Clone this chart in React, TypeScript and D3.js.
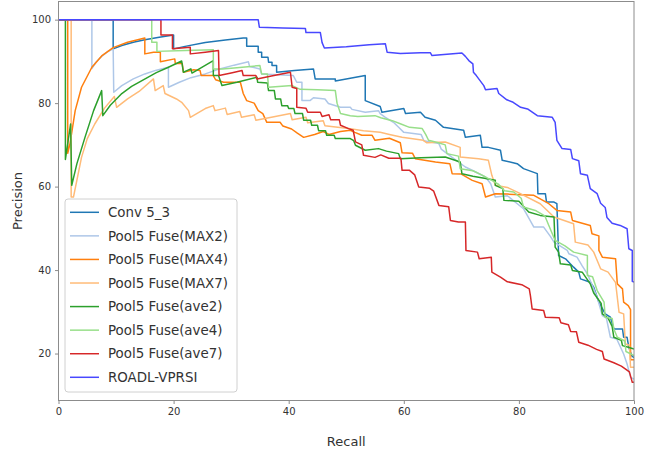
import React, { useEffect, useRef } from "react";
import * as d3 from "d3";

// series labels + colours (legend order)
const seriesNames = [
  "Conv 5_3",
  "Pool5 Fuse(MAX2)",
  "Pool5 Fuse(MAX4)",
  "Pool5 Fuse(MAX7)",
  "Pool5 Fuse(ave2)",
  "Pool5 Fuse(ave4)",
  "Pool5 Fuse(ave7)",
  "ROADL-VPRSI",
];
const seriesColors = ["#1f77b4", "#aec7e8", "#ff7f0e", "#ffbb78", "#2ca02c", "#98df8a", "#d62728", "#4848ff"];

const xTicks = [0, 20, 40, 60, 80, 100];
const yTicks = [20, 40, 60, 80, 100];

// [recall, precision]
const conv53 = [
  [0, 100], [9.5, 100], [9.5, 93.0], [11, 93.8], [13, 94.6], [15, 95.2], [17.5, 95.8], [20, 96.3], [20, 93.0],
  [22, 93.6], [25.5, 94.5], [29, 95.1], [32.1, 95.6], [32.7, 95.6], [32.7, 93.6], [34.7, 93.6], [34.7, 92.2],
  [35.3, 92.2], [35.3, 91.0], [36.4, 91.0], [36.5, 89.8], [37.1, 89.8], [37.1, 89.0], [37.9, 89.0], [37.9, 87.4],
  [41, 87.8], [44.3, 88.2], [44.6, 85.8], [48.1, 85.8], [48.1, 85.3], [53.3, 86.6], [53.3, 80.6], [55.9, 79.2],
  [56.2, 77.8], [60.0, 78.7], [60.3, 77.5], [62.9, 77.8], [63.7, 76.6], [65.5, 75.9], [66.9, 74.2], [70.4, 73.5],
  [70.7, 71.8], [73.3, 72.3], [73.6, 69.4], [74.7, 69.4], [76.8, 68.7], [77.1, 66.3], [79.7, 65.5], [80.8, 64.3],
  [83.2, 63.1], [83.3, 58.3], [84.6, 58.3], [84.8, 56.3], [86.1, 56.3], [86.6, 55.9], [86.9, 43.5], [88.1, 42.7],
  [89.5, 40.7], [90.4, 39.5], [90.7, 37.9], [92.4, 37.1], [93.0, 35.9], [93.9, 32.3], [95.0, 29.5], [95.9, 28.7],
  [96.5, 25.9], [98.0, 25.9], [98.2, 23.9], [98.8, 23.9], [99.1, 21.5], [99.6, 19.5], [100, 19.0],
];
const max2 = [
  [0, 100], [5.8, 100], [5.8, 88.3], [6.5, 89.8], [7.5, 91.2], [8.5, 92.3], [9.5, 93.0], [9.6, 82.6], [11, 84.2],
  [13, 85.8], [15, 87.0], [17, 87.9], [19.1, 88.6], [19.1, 83.8], [21, 85.0], [23, 86.1], [25.5, 87.0], [28, 88.2],
  [30.5, 89.1], [33, 89.9], [33.2, 88.8], [35, 88.2], [35.3, 87.0], [40.8, 86.6], [41.4, 85.0], [42.3, 85.0],
  [42.3, 80.6], [43.7, 80.6], [44.3, 81.3], [46.3, 81.0], [46.9, 79.9], [49, 79.0], [50.7, 79.0], [51, 78.5],
  [53.3, 77.8], [55.6, 78.2], [55.9, 77.5], [56.8, 76.6], [58.2, 75.4], [59.1, 74.2], [60.0, 73.0], [63.0, 72.5],
  [63.5, 71.0], [66.1, 70.3], [66.5, 69.0], [68.4, 67.0], [70.7, 64.7], [72.5, 63.5], [74.2, 62.3], [75.1, 60.7],
  [75.9, 57.5], [78, 57.8], [80.8, 54.7], [82.6, 50.3], [84.3, 50.3], [85.5, 48.0], [86.1, 46.7], [88.4, 44.7],
  [88.7, 43.9], [90.1, 43.1], [91, 41], [91.9, 39.1], [93.6, 33.5], [94.5, 29.1], [95.2, 28.5], [95.9, 23.9],
  [97, 23.5], [98.2, 19.9], [98.8, 17.5], [99.4, 14.3], [100, 13.9],
];
const max4 = [
  [0, 100], [1.6, 100], [1.6, 68], [2.0, 70.3], [2.9, 78.2], [4.0, 83.8], [5.8, 88.6], [7.5, 91.3], [9.5, 93.3],
  [12, 94.6], [15, 95.6], [15, 91.8], [16.5, 92.2], [17.7, 92.2], [17.7, 89.9], [20.2, 90.6], [20.3, 89.5],
  [21.5, 89.5], [21.7, 87.4], [23.5, 88.0], [24.6, 87.8], [24.8, 86.6], [26.9, 86.6], [27.3, 85.6], [28.7, 85.0],
  [31.6, 85.0], [32.1, 82.3], [32.7, 80.6], [34, 80], [34.7, 78.2], [35.5, 77.5], [36.2, 75.4], [38.5, 75.4],
  [39, 74.5], [40.5, 73.8], [41.5, 72.8], [42.6, 71.8], [44.5, 72.5], [46, 73.2], [47, 72.5], [49, 73.2],
  [50.7, 73.5], [51.5, 73.0], [52.7, 72.3], [54.5, 72.3], [55, 71.1], [57.5, 71.6], [59.4, 70.5], [59.7, 68.1],
  [61.5, 68], [62, 66.7], [65.5, 65.9], [68, 65.5], [68.4, 63.1], [70, 63], [71.9, 61.5], [73.6, 60.7],
  [74.2, 57.5], [75.9, 58.3], [78, 58.2], [82.6, 57.9], [85.2, 55.9], [86.6, 54.3], [89, 53.9], [89.3, 51.9],
  [92.4, 50.7], [92.7, 48.7], [93.9, 48.2], [93.9, 44.7], [94.5, 43.1], [96.8, 42.7], [97.1, 36.7], [98, 35.5],
  [98.2, 32.3], [99, 31.5], [99.4, 30.5], [99.4, 18.5], [100, 18.5],
];
const max7 = [
  [0, 100], [2.2, 100], [2.2, 57.5], [2.6, 57.5], [4.0, 67], [5, 71.5], [6.3, 75], [8, 78.8], [9.7, 81.6],
  [10.1, 79.0], [12, 81], [14, 82.8], [16.5, 85.8], [16.8, 83.0], [18.2, 84.2], [18.5, 82.3], [20.5, 81.0],
  [21.4, 80.2], [22.6, 78.2], [22.9, 76.6], [25.5, 78.7], [26.9, 79.4], [27.2, 78.2], [29, 78.8], [29.3, 77.3],
  [31.5, 78.0], [31.8, 76.6], [34, 77.2], [34.3, 75.9], [37, 76.6], [40.3, 77.5], [40.6, 76.0], [43, 76.6],
  [43.3, 75.3], [46, 75.8], [46.3, 74.6], [50.4, 73.9], [53, 73.4], [55.9, 73.0], [57.5, 72.5], [59.7, 71.8],
  [63.4, 71.1], [64, 70.5], [67.2, 70.7], [69.8, 69.4], [69.8, 67.1], [73, 66.7], [74.7, 66.3], [75.3, 62.7],
  [75.9, 60.3], [78, 59.8], [80, 58.5], [83.7, 55.9], [86.1, 52.7], [89.5, 51.1], [89.8, 46.7], [92, 46],
  [93, 44.3], [94.2, 40.3], [95.5, 39.5], [96.8, 37], [97.4, 29.9], [98.2, 29.5], [98.5, 22.3], [99.2, 22],
  [99.4, 16.7], [100, 16.7],
];
const ave2 = [
  [0, 100], [1.2, 100], [1.2, 66.5], [2.1, 75.0], [2.3, 60.3], [3.2, 65.5], [4.6, 71.8], [6.1, 78.2], [7.5, 83.0],
  [7.7, 77.0], [9, 79.5], [11, 82.3], [12.7, 84], [14.5, 85.4], [17, 87.3], [19.1, 88.6], [21.4, 90.1],
  [21.7, 87.4], [23.0, 88.2], [23.2, 87.2], [26.9, 90.2], [26.9, 86.6], [27.8, 86.6], [28.4, 84.2], [31, 85],
  [34.5, 86.2], [34.6, 85.0], [36.3, 84.8], [36.5, 83.0], [37.5, 83.0], [37.7, 81.0], [38.6, 81.0], [38.8, 79.4],
  [39.8, 79.4], [40, 78.7], [40.9, 78.7], [41.1, 77.5], [42.4, 77.5], [42.6, 75.9], [43.8, 75.9], [44, 74.7],
  [45, 74.7], [45.2, 73.4], [46.4, 73.4], [46.6, 72.3], [47.9, 72.3], [48.1, 71.5], [50.7, 71.5], [51.3, 71.0],
  [51.6, 69.9], [53.3, 68.7], [55.6, 69.1], [57, 68.5], [59.1, 67.9], [59.4, 66.7], [63, 66.9], [67.2, 67.1],
  [69.8, 65.9], [70.1, 63.1], [72, 62.5], [74, 62], [75.9, 61.5], [75.9, 60.3], [77.2, 59.5], [77.4, 56.7],
  [80, 56.5], [81.7, 53.9], [83.7, 53.1], [86.1, 52.7], [86.3, 45.5], [86.9, 44.3], [87.2, 41.5], [89, 41.2],
  [89.3, 39.9], [91, 39.5], [92.4, 36.7], [93, 34.5], [94.3, 32], [94.5, 29.5], [95.5, 28.5], [96.2, 26.5],
  [96.5, 23.9], [97.8, 23.2], [98, 21.9], [99, 21.5], [100, 21.1],
];
const ave4 = [
  [0, 100], [16.2, 100], [16.2, 94.6], [17.1, 94.6], [17.1, 92.4], [22, 92.6], [26.9, 92.8], [26.9, 88.2],
  [28.5, 88.2], [31, 88.5], [35, 89.0], [35.3, 87.0], [36.3, 87.0], [36.5, 83.8], [40.6, 84.2], [42, 83.3],
  [45, 83.2], [48.1, 83.0], [48.4, 80], [49, 77.5], [50.7, 77.0], [52, 76.8], [55, 77.0], [56, 76.5], [58, 75.8],
  [59.5, 75.0], [61, 74.2], [63.2, 73.9], [63.8, 72.5], [64.3, 71.1], [66, 70.5], [67.2, 70.0], [67.5, 67.9],
  [69.5, 67.3], [69.8, 64.3], [72, 63.8], [73.5, 62.8], [75.3, 61.5], [76.5, 60.5], [77.5, 59], [79.1, 58.7],
  [80.4, 57.2], [80.8, 55.1], [83, 54.2], [84.5, 53], [85.2, 50.7], [86.3, 47.1], [88, 45.8], [89.5, 44.3],
  [91.9, 43.5], [91.9, 38.7], [92.8, 38.4], [93.6, 35.1], [94.8, 32.3], [95.0, 28.7], [96.2, 28.4], [96.5, 25.9],
  [97.1, 23.9], [98.4, 23], [98.6, 20.5], [100, 19.5],
];
const ave7 = [
  [0, 100], [17.8, 100], [17.8, 96.3], [19.8, 96.3], [19.8, 93.0], [22.9, 93.4], [22.9, 91.8], [25.5, 92.2],
  [27.8, 92.6], [27.9, 86.6], [30, 87.2], [31.9, 87.8], [32.1, 86.6], [34.3, 86.6], [34.5, 85.8], [37, 86.5],
  [40.3, 87.4], [40.6, 83.8], [41.4, 83.5], [41.4, 79.0], [43, 78.8], [43.3, 77.8], [45.5, 77.8], [45.8, 76.8],
  [47, 77.2], [47.3, 76.0], [48.8, 76.0], [49, 74.7], [50.4, 73.9], [51.2, 73.5], [51.6, 70.7], [52.7, 70.0],
  [53, 67.5], [55, 67.0], [56, 67.6], [57.4, 66.8], [59.5, 66.8], [59.7, 63.9], [61, 63.9], [61.9, 62.8],
  [62.6, 59.9], [64.5, 59.6], [65.2, 58.9], [66.1, 55.5], [67.8, 55.2], [68.1, 51.9], [69.5, 51.5], [70.7, 51.5],
  [70.8, 44.7], [72.8, 44.3], [73.1, 42.7], [75.2, 43.1], [75.3, 39.5], [76.8, 38.3], [78, 37.2], [80.5, 36.5],
  [81.8, 35.5], [82, 33.9], [82.3, 30.7], [84.3, 30.3], [84.6, 28.7], [87, 28.6], [87.3, 27.4], [88.6, 26.9],
  [89, 25.3], [90, 25.2], [90.4, 22.7], [92, 22.0], [93.5, 21.0], [94.5, 20.5], [94.8, 18.7], [96.5, 17.8],
  [97.8, 17.0], [98.6, 16.2], [99.2, 15.6], [99.7, 13.1], [100, 13.1],
];
const roadl = [
  [0, 100], [34.7, 100], [34.9, 98.2], [39, 98.0], [42.9, 97.9], [43.0, 96.9], [45.5, 96.9], [45.8, 94.5],
  [46.2, 93.2], [50, 93.5], [54, 94], [56.8, 94.2], [57.1, 92.2], [59.4, 91.9], [62.9, 92.1], [64.6, 92.1],
  [64.9, 91.4], [67.5, 91.7], [70.1, 92.0], [70.7, 91.2], [71.3, 90.2], [72.0, 89.4], [72.1, 87.4], [72.6, 86.6],
  [73.9, 84.2], [74.2, 83.2], [76.2, 83.5], [76.5, 82.3], [77.9, 80.8], [79, 80.2], [80.3, 79.0], [81.5, 78.6],
  [83.2, 77.0], [85.8, 76.6], [86.3, 75.4], [86.6, 71.1], [87.5, 69.1], [89.0, 68.9], [89.3, 66.7], [90.4, 66.2],
  [90.7, 63.1], [91.9, 62.7], [92.4, 59.5], [93.6, 58.3], [94.2, 56.0], [95.0, 55.0], [95.3, 52.6], [96.2, 51.2],
  [97.6, 50.7], [98.8, 49.9], [99.1, 45.1], [99.7, 44.7], [99.7, 37.3], [100, 37.1],
];

const seriesData = [conv53, max2, max4, max7, ave2, ave4, ave7, roadl];

export default function App() {
  const ref = useRef<SVGSVGElement>(null);

  useEffect(() => {
    const svg = d3.select(ref.current);
    svg.selectAll("*").remove();

    const left = 58.5, right = 634, top = 1.5, bottom = 400.5;
    const x = d3.scaleLinear().domain([0, 100]).range([left, right]);
    const y = d3.scaleLinear().domain([8.75, 104.35]).range([bottom, top]);
    const font = "DejaVu Sans, sans-serif";
    const frame = "#8c8c8c";

    svg.append("defs").append("clipPath").attr("id", "plotclip")
      .append("rect").attr("x", left).attr("y", top).attr("width", right - left).attr("height", bottom - top);

    const line = d3.line<number[]>().x((d) => x(d[0])).y((d) => y(d[1]));

    svg.append("g").attr("clip-path", "url(#plotclip)")
      .selectAll("path")
      .data(seriesData)
      .enter()
      .append("path")
      .attr("d", (d) => line(d))
      .attr("fill", "none")
      .attr("stroke", (d, i) => seriesColors[i])
      .attr("stroke-width", 1.5)
      .attr("stroke-linejoin", "round");

    // frame
    svg.append("rect")
      .attr("x", left).attr("y", top).attr("width", right - left).attr("height", bottom - top)
      .attr("fill", "none").attr("stroke", frame).attr("stroke-width", 1);

    // axes
    const xAxis = svg.append("g").attr("transform", `translate(0,${bottom})`)
      .call(d3.axisBottom(x).tickValues(xTicks).tickSize(3.5).tickPadding(4).tickFormat(d3.format("d")));
    const yAxis = svg.append("g").attr("transform", `translate(${left},0)`)
      .call(d3.axisLeft(y).tickValues(yTicks).tickSize(3.5).tickPadding(4).tickFormat(d3.format("d")));
    [xAxis, yAxis].forEach((g) => {
      g.select(".domain").remove();
      g.selectAll("line").attr("stroke", frame);
      g.selectAll("text").attr("fill", "#333").style("font-family", font).style("font-size", "10px");
    });

    svg.append("text").attr("x", (left + right) / 2).attr("y", 446)
      .attr("text-anchor", "middle").attr("fill", "#333")
      .style("font-family", font).style("font-size", "13px").text("Recall");
    svg.append("text").attr("transform", `translate(22,${(top + bottom) / 2}) rotate(-90)`)
      .attr("text-anchor", "middle").attr("fill", "#333")
      .style("font-family", font).style("font-size", "13px").text("Precision");

    // legend
    const lg = svg.append("g");
    lg.append("rect").attr("x", 65).attr("y", 199).attr("width", 172).attr("height", 193)
      .attr("rx", 3).attr("fill", "white").attr("fill-opacity", 0.8)
      .attr("stroke", "#d0d0d0").attr("stroke-width", 1);
    const rowH = 23.57;
    seriesNames.forEach((name, i) => {
      const cy = 212.3 + i * rowH;
      lg.append("line").attr("x1", 70).attr("x2", 99).attr("y1", cy).attr("y2", cy)
        .attr("stroke", seriesColors[i]).attr("stroke-width", 1.5);
      lg.append("text").attr("x", 108).attr("y", cy).attr("dy", "0.35em")
        .attr("fill", "#333").style("font-family", font).style("font-size", "13.4px").text(name);
    });
  }, []);

  return (
    <svg
      ref={ref}
      width={649}
      height={451}
      style={{ position: "absolute", left: 0, top: 0, background: "white" }}
    />
  );
}
